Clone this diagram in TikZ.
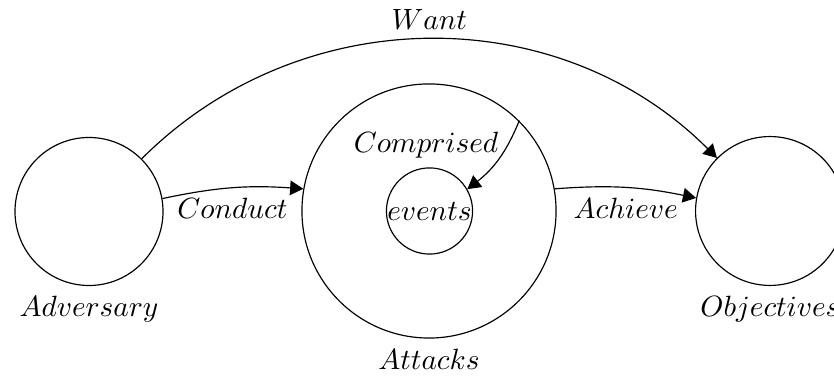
\documentclass[tikz,border=0pt]{standalone}
\usetikzlibrary{arrows.meta}
\begin{document}
\begin{tikzpicture}[x=0.3412pt, y=-0.3412pt,
  circ/.style={draw, circle, inner sep=0pt},
  arr/.style={-{Triangle[length=4.5pt,width=5pt]}},
  lbl/.style={inner sep=3.33pt}]
  \useasboundingbox (0,0) rectangle (834,376);

  % nodes
  \node[circ, minimum size=50.5pt] (adv) at (89,211.5) {};
  \node[circ, minimum size=86.7pt] (att) at (429,211) {};
  \node[circ, minimum size=29.3pt] (ev) at (429.5,211) {$events$};
  \node[circ, minimum size=50.8pt] (obj) at (770,211) {};

  % captions under the circles
  \node[lbl, anchor=north] (advlbl) at (adv.south) {$Adversary$};
  \node[lbl, anchor=north] (attlbl) at (att.south) {$Attacks$};
  \node[lbl, anchor=north] (objlbl) at (obj.south) {$Objectives$};
  \node (comp) at (426,145) {$Comprised$};

  % connectors
  \draw[arr] (adv.45) to[out=45,in=135] node[above] (want) {$Want$} (obj.135);
  \draw[arr] (adv.10) to[bend left=8] node[below] (cond) {$Conduct$} (att.170);
  \draw[arr] (att.10) to[bend left=8] node[below] (ach) {$Achieve$} (obj.170);
  \draw[arr] (att.45) to[bend left=15] (ev.30);
\end{tikzpicture}
\end{document}
